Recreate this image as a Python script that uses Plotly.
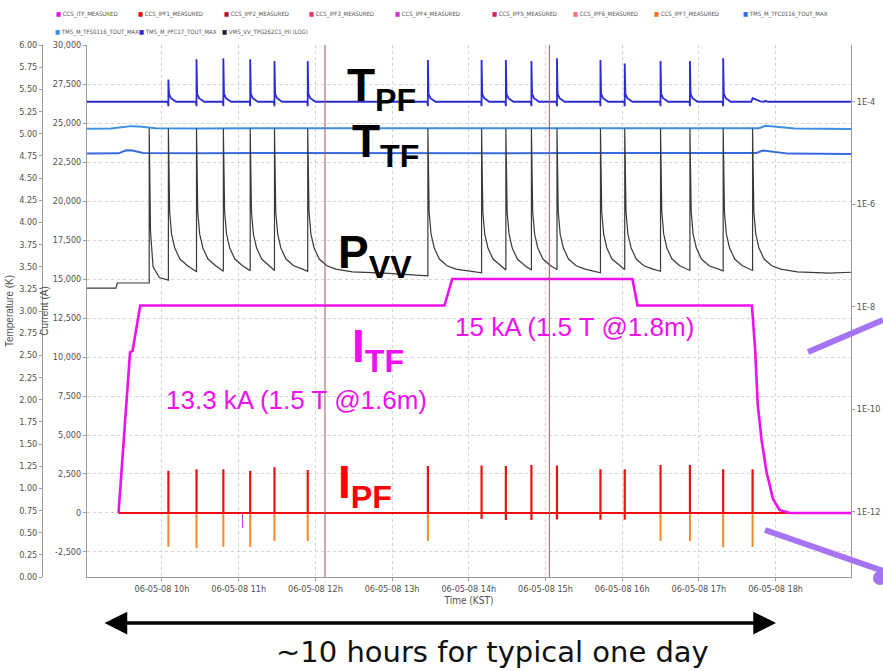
import pandas as pd
import plotly.graph_objects as go

DAY = "2006-05-08"

# ---------------- axis ticks ----------------
hour_ticks = ["10:00", "11:00", "12:00", "13:00", "14:00", "15:00", "16:00", "17:00", "18:00"]
hour_labels = ["06-05-08 10h", "06-05-08 11h", "06-05-08 12h", "06-05-08 13h", "06-05-08 14h",
               "06-05-08 15h", "06-05-08 16h", "06-05-08 17h", "06-05-08 18h"]
current_ticks = [-2500, 0, 2500, 5000, 7500, 10000, 12500, 15000, 17500, 20000, 22500, 25000, 27500, 30000]
current_labels = ["-2,500", "0", "2,500", "5,000", "7,500", "10,000", "12,500", "15,000", "17,500",
                  "20,000", "22,500", "25,000", "27,500", "30,000"]
temp_ticks = [0.0, 0.25, 0.5, 0.75, 1.0, 1.25, 1.5, 1.75, 2.0, 2.25, 2.5, 2.75, 3.0, 3.25, 3.5, 3.75,
              4.0, 4.25, 4.5, 4.75, 5.0, 5.25, 5.5, 5.75, 6.0]
temp_labels = ["0.00", "0.25", "0.50", "0.75", "1.00", "1.25", "1.50", "1.75", "2.00", "2.25", "2.50",
               "2.75", "3.00", "3.25", "3.50", "3.75", "4.00", "4.25", "4.50", "4.75", "5.00", "5.25",
               "5.50", "5.75", "6.00"]
log_ticks = [1e-4, 1e-6, 1e-8, 1e-10, 1e-12]
log_labels = ["1E-4", "1E-6", "1E-8", "1E-10", "1E-12"]

# ---------------- data ----------------
t_start, t_end = "09:01:20", "18:59:00"
ipf_start = "09:26"

# PF pulse times (shot times)
pulse_times = ["10:05", "10:27", "10:48", "11:09", "11:28", "11:54", "13:28", "14:10", "14:29",
               "14:49", "15:09", "15:43", "16:02", "16:30", "16:53", "17:19", "17:42"]
ipf1_peak = [2710, 2800, 2800, 2710, 2930, 2760, 3010, 3050, 3010, 3080, 3050, 2800, 2800, 3080, 3080, 2800, 2800]
ipf1_dip = [0, 0, 0, 0, 0, 0, 0, -390, -450, -450, -420, -430, -430, 0, 0, 0, 0]
ipf7_dip = [-2160, -2240, -2160, -2180, -1800, -1800, -1790, 0, 0, 0, 0, 0, 0, -1780, -1790, -2200, -2180]
ipf4_dip_time, ipf4_dip_val = "11:03", -960

# TF coil current
itf_times = ["09:26", "09:35", "09:37", "09:43", "13:41", "13:47", "16:08", "16:12", "17:41:30",
             "17:44", "17:46", "17:49", "17:53", "17:58", "18:03", "18:11", "18:59"]
itf_vals = [0, 10300, 10400, 13300, 13300, 15000, 15000, 13300, 13300,
            10500, 7000, 4700, 2600, 900, 200, 0, 0]

# PF coil temperature (K)
tpf_base = 5.36
tpf_peak = [5.61, 5.84, 5.85, 5.84, 5.82, 5.82, 5.83, 5.83, 5.83, 5.82, 5.85, 5.83, 5.79, 5.82, 5.82, 5.85]
tpf_tail_min = [0.5, 2.0, 6.0]
tpf_tail_val = [5.45, 5.40, 5.36]
tpf_dip = 5.31
tpf_end_times = ["17:41", "17:42", "17:44", "17:48", "17:51", "17:52", "17:54"]
tpf_end_vals = [5.36, 5.40, 5.39, 5.365, 5.36, 5.37, 5.36]

# TF structure / coil temperatures (K)
ttf_a_times = ["09:01:20", "09:20", "09:36", "09:42", "09:55", "10:30", "11:30", "12:30", "13:30",
               "14:30", "15:30", "16:30", "17:30", "17:47", "17:52", "18:00", "18:15", "18:59"]
ttf_a_vals = [5.055, 5.058, 5.085, 5.082, 5.062, 5.058, 5.062, 5.060, 5.060,
              5.058, 5.062, 5.060, 5.060, 5.062, 5.088, 5.080, 5.058, 5.052]
ttf_b_times = ["09:01:20", "09:26", "09:32", "09:37", "09:45", "10:30", "11:30", "12:30", "13:30",
               "14:30", "15:30", "16:30", "17:30", "17:45", "17:50", "17:56", "18:10", "18:59"]
ttf_b_vals = [4.775, 4.778, 4.812, 4.810, 4.782, 4.778, 4.782, 4.779, 4.781,
              4.778, 4.782, 4.780, 4.778, 4.782, 4.810, 4.800, 4.775, 4.772]

# Vacuum vessel pressure (log)
pvv_early_times = ["09:01:20", "09:24", "09:25", "09:50", "09:50", "09:51", "09:53", "09:58", "10:05"]
pvv_early_vals = [2.3e-8, 2.3e-8, 2.9e-8, 2.9e-8, 3.0e-5, 3.0e-7, 6.0e-8, 3.7e-8, 3.3e-8]
pvv_peak = 3.0e-5
pvv_decay_min = [1, 2.5, 5, 9, 15, 22, 35, 60]
pvv_decay_val = [7e-7, 2.6e-7, 1.4e-7, 8.5e-8, 6.3e-8, 5.4e-8, 4.8e-8, 4.5e-8]
pvv_settle = [4.8e-8, 4.9e-8, 5.0e-8, 5.1e-8, 4.9e-8, 4.0e-8, 4.6e-8, 5.2e-8, 5.2e-8,
              5.3e-8, 4.6e-8, 5.3e-8, 4.9e-8, 5.1e-8, 5.0e-8, 5.1e-8, 4.7e-8]

cursor_times = ["12:07:30", "15:03"]


def T(s):
    return pd.Timestamp(f"{DAY} {s}")


def M(m):
    return pd.Timedelta(minutes=m)


# ---- build IPF traces ----
def spikes(peaks, dips, with_peak=True):
    xs, ys = [T(ipf_start)], [0]
    for t, pk, dp in zip(pulse_times, peaks, dips):
        tt = T(t)
        if with_peak:
            xs += [tt, tt, tt]
            ys += [0, pk, 0]
        if dp:
            xs += [tt, tt, tt]
            ys += [0, dp, 0]
    xs.append(T(t_end))
    ys.append(0)
    return xs, ys


ipf1_x, ipf1_y = spikes(ipf1_peak, ipf1_dip)
ipf7_x, ipf7_y = spikes([0] * len(pulse_times), ipf7_dip, with_peak=False)
ipf4_x = [T(ipf_start), T(ipf4_dip_time), T(ipf4_dip_time), T(ipf4_dip_time), T(t_end)]
ipf4_y = [0, 0, ipf4_dip_val, 0, 0]

# ---- T_PF ----
tpf_x, tpf_y = [T(t_start)], [tpf_base]
for t, pk in zip(pulse_times[:-1], tpf_peak):
    tt = T(t)
    tpf_x += [tt - M(0.4), tt, tt]
    tpf_y += [tpf_base, tpf_dip, pk]
    for m, v in zip(tpf_tail_min, tpf_tail_val):
        tpf_x.append(tt + M(m))
        tpf_y.append(v)
tpf_x += [T(s) for s in tpf_end_times] + [T(t_end)]
tpf_y += tpf_end_vals + [tpf_base]

# ---- P_VV ----
pvv_x = [T(s) for s in pvv_early_times]
pvv_y = list(pvv_early_vals)
next_times = pulse_times[1:] + [t_end]
for t, tn, settle in zip(pulse_times, next_times, pvv_settle):
    tt, tnn = T(t), T(tn)
    gap = (tnn - tt).total_seconds() / 60
    pvv_x += [tt, tt]
    pvv_y += [pvv_y[-1], pvv_peak]
    for m, v in zip(pvv_decay_min, pvv_decay_val):
        if m < gap - 1:
            pvv_x.append(tt + M(m))
            pvv_y.append(v)
    pvv_x.append(tnn)
    pvv_y.append(settle)

# ---------------- figure ----------------
fig = go.Figure()

TICKFONT = dict(family="Liberation Sans Narrow, DejaVu Sans Condensed, Liberation Sans, Arial", size=9, color="#505050")

fig.add_trace(go.Scatter(x=pvv_x, y=pvv_y, mode="lines", yaxis="y3",
                         line=dict(color="#3a3a3a", width=1.2), name="VMS_VV_TPG262C1_PII (LOG)"))
fig.add_trace(go.Scatter(x=[T(s) for s in ttf_a_times], y=ttf_a_vals, mode="lines", yaxis="y2",
                         line=dict(color="#3d8fe6", width=2), name="TMS_M_TFS0116_TOUT_MAX"))
fig.add_trace(go.Scatter(x=[T(s) for s in ttf_b_times], y=ttf_b_vals, mode="lines", yaxis="y2",
                         line=dict(color="#3a6ae0", width=2), name="TMS_M_TFC0116_TOUT_MAX"))
fig.add_trace(go.Scatter(x=tpf_x, y=tpf_y, mode="lines", yaxis="y2",
                         line=dict(color="#2b2bd6", width=1.8), name="TMS_M_PFC17_TOUT_MAX"))
fig.add_trace(go.Scatter(x=ipf7_x, y=ipf7_y, mode="lines",
                         line=dict(color="#f58a2a", width=2), name="CCS_IPF7_MEASURED"))
fig.add_trace(go.Scatter(x=ipf4_x, y=ipf4_y, mode="lines",
                         line=dict(color="#c040e0", width=1), name="CCS_IPF4_MEASURED"))
fig.add_trace(go.Scatter(x=ipf1_x, y=ipf1_y, mode="lines",
                         line=dict(color="#ee1010", width=2.2), name="CCS_IPF1_MEASURED"))
fig.add_trace(go.Scatter(x=[T(s) for s in itf_times], y=itf_vals, mode="lines",
                         line=dict(color="#ee10ee", width=2.6), name="CCS_ITF_MEASURED"))

# cursor lines
for c in cursor_times:
    fig.add_shape(type="line", xref="x", yref="paper", x0=T(c), x1=T(c), y0=0, y1=1,
                  line=dict(color="#a05858", width=1))

L, R, TOP, BOT = 42, 851, 45, 577
W, H = R - L, BOT - TOP


def px(x, y):
    return (x - L) / W, (BOT - y) / H


# legend drawn as text
legend_row1 = [("CCS_ITF_MEASURED", "#e010e0", 54), ("CCS_IPF1_MEASURED", "#e01010", 136),
               ("CCS_IPF2_MEASURED", "#b01030", 222), ("CCS_IPF3_MEASURED", "#e03070", 307),
               ("CCS_IPF4_MEASURED", "#d030d0", 393), ("CCS_IPF5_MEASURED", "#d02060", 490),
               ("CCS_IPF6_MEASURED", "#f07070", 571), ("CCS_IPF7_MEASURED", "#f07020", 652),
               ("TMS_M_TFC0116_TOUT_MAX", "#3a6ae0", 741)]
legend_row2 = [("TMS_M_TFS0116_TOUT_MAX", "#3d8fe6", 53), ("TMS_M_PFC17_TOUT_MAX", "#2b2bd6", 137),
               ("VMS_VV_TPG262C1_PII (LOG)", "#222222", 220)]
annotations = []
for row, ypix in ((legend_row1, 14), (legend_row2, 32)):
    for name, col, xpix in row:
        ax_, ay_ = px(xpix, ypix)
        annotations.append(dict(xref="paper", yref="paper", x=ax_, y=ay_, xanchor="left", yanchor="middle",
                                showarrow=False,
                                text=f'<span style="color:{col}">■</span> {name}',
                                font=dict(family=TICKFONT["family"], size=6, color="#555555")))

BIG = "Liberation Sans, Arial, sans-serif"
labels = [
    ("T<sub>PF</sub>", "black", 345, 88),
    ("T<sub>TF</sub>", "black", 350, 144),
    ("P<sub>VV</sub>", "black", 336, 255),
    ("I<sub>TF</sub>", "#ee10ee", 350, 349),
    ("I<sub>PF</sub>", "#ff0000", 336, 485),
]
for txt, col, xpix, ypix in labels:
    ax_, ay_ = px(xpix, ypix)
    annotations.append(dict(xref="paper", yref="paper", x=ax_, y=ay_, xanchor="left", yanchor="middle",
                            showarrow=False, text=f"<b>{txt}</b>",
                            font=dict(family=BIG, size=46, color=col)))

for txt, xpix, ypix in (("15 kA (1.5 T @1.8m)", 574, 327), ("13.3 kA (1.5 T @1.6m)", 296, 400)):
    ax_, ay_ = px(xpix, ypix)
    annotations.append(dict(xref="paper", yref="paper", x=ax_, y=ay_, xanchor="center", yanchor="middle",
                            showarrow=False, text=txt, font=dict(family=BIG, size=26, color="#ee10ee")))

ax_, ay_ = px(492, 652)
annotations.append(dict(xref="paper", yref="paper", x=ax_, y=ay_, xanchor="center", yanchor="middle",
                        showarrow=False, text="~10 hours for typical one day",
                        font=dict(family="DejaVu Sans, sans-serif", size=29, color="#111111")))

# double-headed arrow
ax_, ay_ = px(776, 623)
annotations.append(dict(xref="paper", yref="paper", x=ax_, y=ay_, ax=-(776 - 103), ay=0, axref="pixel",
                        ayref="pixel", text="", showarrow=True, arrowhead=2, arrowside="end+start",
                        arrowsize=1.3, arrowwidth=3.5, arrowcolor="#000000"))

# purple pointer lines
for (x0, y0, x1, y1) in ((808, 352, 883, 320), (765, 530, 883, 571)):
    a, b = px(x0, y0)
    c, d = px(x1, y1)
    fig.add_shape(type="line", xref="paper", yref="paper", x0=a, y0=b, x1=c, y1=d,
                  line=dict(color="#a674f2", width=6))
a, b = px(873, 585)
c, d = px(887, 571)
fig.add_shape(type="circle", xref="paper", yref="paper", x0=a, y0=b, x1=c, y1=d,
              fillcolor="#a674f2", line=dict(width=0))

axis_common = dict(showline=True, linecolor="#9a9a9a", linewidth=1, ticks="outside", ticklen=3,
                   tickcolor="#9a9a9a", tickfont=TICKFONT, zeroline=False, automargin=False)

fig.update_layout(
    width=883, height=671,
    margin=dict(l=L, r=883 - R, t=TOP, b=671 - BOT, autoexpand=False),
    paper_bgcolor="white", plot_bgcolor="white",
    showlegend=False,
    annotations=annotations,
    xaxis=dict(type="date", domain=[(87 - L) / W, 1], range=[T(t_start), T(t_end)],
               tickvals=[T(s) for s in hour_ticks], ticktext=hour_labels,
               showgrid=True, gridcolor="#d4d4d4", griddash="dot",
               title=dict(text="Time (KST)", font=dict(family=TICKFONT["family"], size=10, color="#505050"),
                          standoff=4),
               **axis_common),
    yaxis=dict(range=[-4103, 30000], tickvals=current_ticks, ticktext=current_labels,
               showgrid=True, gridcolor="#d4d4d4", griddash="dot",
               title=dict(text="Current (A)", font=dict(family=BIG, size=10, color="#505050"), standoff=2),
               **axis_common),
    yaxis2=dict(overlaying="y", anchor="free", position=0, side="left", range=[0, 6],
                tickvals=temp_ticks, ticktext=temp_labels, showgrid=False,
                title=dict(text="Temperature (K)", font=dict(family=BIG, size=10, color="#505050"), standoff=2),
                **axis_common),
    yaxis3=dict(overlaying="y", anchor="x", side="right", type="log", range=[-13.274, -2.894],
                tickvals=log_ticks, ticktext=log_labels, showgrid=False, **axis_common),
)

fig.write_html("out.html")
